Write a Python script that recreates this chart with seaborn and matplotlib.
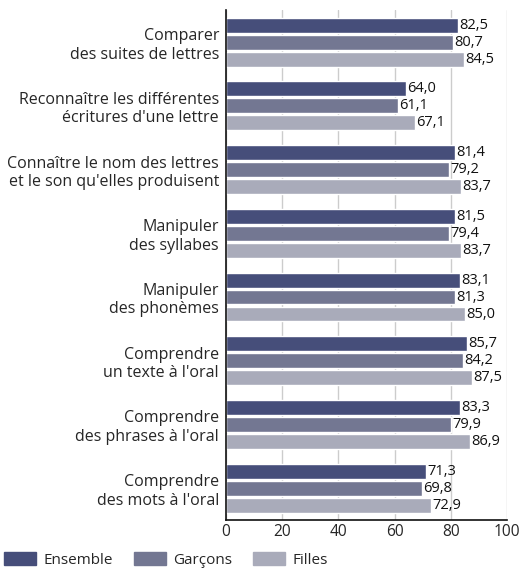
import pandas as pd
import matplotlib.pyplot as plt
import seaborn as sns

# Données
categories = [
    "Comparer\ndes suites de lettres",
    "Reconnaître les différentes\nécritures d'une lettre",
    "Connaître le nom des lettres\net le son qu'elles produisent",
    "Manipuler\ndes syllabes",
    "Manipuler\ndes phonèmes",
    "Comprendre\nun texte à l'oral",
    "Comprendre\ndes phrases à l'oral",
    "Comprendre\ndes mots à l'oral",
]
ensemble = [82.5, 64.0, 81.4, 81.5, 83.1, 85.7, 83.3, 71.3]
garcons = [80.7, 61.1, 79.2, 79.4, 81.3, 84.2, 79.9, 69.8]
filles = [84.5, 67.1, 83.7, 83.7, 85.0, 87.5, 86.9, 72.9]
series = ["Ensemble", "Garçons", "Filles"]
couleurs = ["#464e7a", "#737792", "#a9abba"]

rows = []
for serie, vals in zip(series, [ensemble, garcons, filles]):
    for cat, v in zip(categories, vals):
        rows.append({"cat": cat, "serie": serie, "val": v})
df = pd.DataFrame(rows)

sns.set_style("white")
plt.rcParams["font.family"] = ["Open Sans", "DejaVu Sans"]

fig = plt.figure(figsize=(5.19, 5.69), dpi=100)
ax = fig.add_axes([0.4355, 0.086, 0.5415, 0.896])

sns.barplot(data=df, y="cat", x="val", hue="serie", palette=couleurs,
            orient="h", width=0.8, gap=0.12, saturation=1, ax=ax, legend=False)

for cont in ax.containers:
    ax.bar_label(cont, fmt=lambda v: f"{v:.1f}".replace(".", ","),
                 padding=1, fontsize=10.5, color="#111111")

ax.set_xlim(0, 100)
ax.set_xticks([0, 20, 40, 60, 80, 100])
ax.xaxis.grid(True, color="#cccccc", linewidth=1)
ax.set_axisbelow(True)
ax.set_xlabel("")
ax.set_ylabel("")
for s in ["top", "right"]:
    ax.spines[s].set_visible(False)
ax.spines["left"].set_color("#111111")
ax.spines["bottom"].set_color("#111111")
ax.spines["left"].set_linewidth(1.2)
ax.spines["bottom"].set_linewidth(1.2)
ax.tick_params(axis="y", length=0, pad=5, labelsize=11.5)
ax.tick_params(axis="x", length=0, pad=3, labelsize=11.2)
for lab in ax.get_yticklabels():
    lab.set_horizontalalignment("right")
    lab.set_multialignment("right")

handles = [plt.Rectangle((0, 0), 1, 1, color=c) for c in couleurs]
fig.legend(handles, series, loc="lower left", bbox_to_anchor=(0.008, 0.002),
           ncol=3, frameon=False, fontsize=11, handlelength=2.1,
           handleheight=0.85, columnspacing=1.4, handletextpad=0.45,
           borderpad=0, borderaxespad=0)

plt.savefig("out.png", dpi=100)
